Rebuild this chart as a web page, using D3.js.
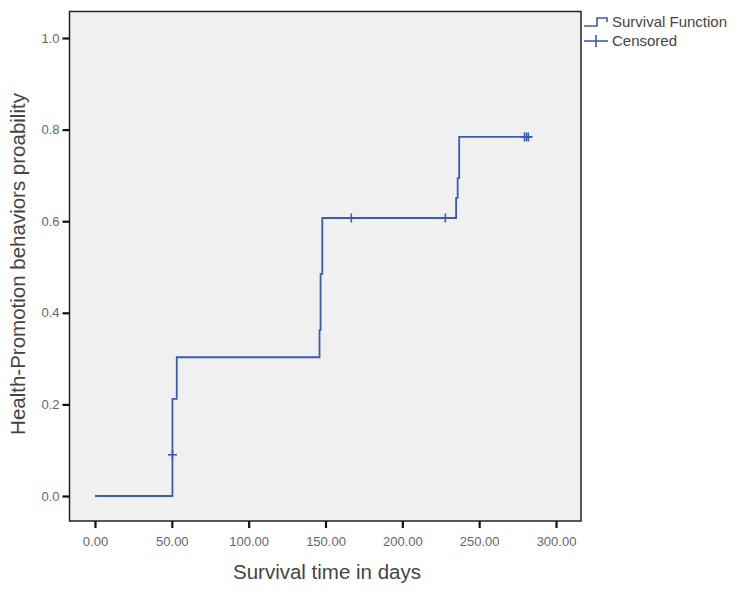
<!DOCTYPE html>
<html><head><meta charset="utf-8">
<script src="https://cdn.jsdelivr.net/npm/d3@7"></script>
<style>body{margin:0;background:#fff;font-family:"Liberation Sans",Arial,sans-serif}</style>
</head><body><svg id="c" width="734" height="591"></svg>
<script>
// Step points: [time (days), cumulative probability]
const stepTimes = [0, 50.4, 53.2, 146.1, 146.8, 147.9, 235, 236, 237, 284];
const stepValues = [0, 0.212, 0.303, 0.362, 0.485, 0.607, 0.651, 0.694, 0.784, 0.784];
const censorTimes = [50.4, 166.8, 228, 279.5, 280.8, 282];
const censorValues = [0.09, 0.607, 0.607, 0.784, 0.784, 0.784];
const xTicks = [0, 50, 100, 150, 200, 250, 300];
const yTicks = [0, 0.2, 0.4, 0.6, 0.8, 1.0];

const svg = d3.select("#c");
const frame = {l: 69.5, t: 11.5, r: 581, b: 521};
const x = d3.scaleLinear().domain([0, 300]).range([95, 556]);
const y = d3.scaleLinear().domain([0, 1]).range([496, 38]);
const blue = "#3a5db3";

svg.append("rect").attr("x", frame.l).attr("y", frame.t)
  .attr("width", frame.r - frame.l).attr("height", frame.b - frame.t)
  .attr("fill", "#f0f0f0").attr("stroke", "#222").attr("stroke-width", 1.5);

// Axes
const yAxis = svg.append("g").attr("transform", `translate(${frame.l},0)`)
  .call(d3.axisLeft(y).tickValues(yTicks).tickFormat(d3.format(".1f")).tickSize(7).tickPadding(3));
const xAxis = svg.append("g").attr("transform", `translate(0,${frame.b})`)
  .call(d3.axisBottom(x).tickValues(xTicks).tickFormat(d3.format(".2f")).tickSize(7).tickPadding(9));
[yAxis, xAxis].forEach(g => {
  g.select(".domain").remove();
  g.selectAll("line").attr("stroke", "#111").attr("stroke-width", 2.2);
  g.selectAll("text").attr("fill", "#666").attr("font-size", 13)
    .attr("font-family", "Liberation Sans, Arial, sans-serif");
});

// Step line
const pts = stepTimes.map((t, i) => [t, stepValues[i]]);
const line = d3.line().x(d => x(d[0])).y(d => y(d[1])).curve(d3.curveStepAfter);
svg.append("path").datum(pts).attr("d", line).attr("fill", "none")
  .attr("stroke", blue).attr("stroke-width", 1.8);

// Censored marks
const cens = censorTimes.map((t, i) => [t, censorValues[i]]);
const cg = svg.append("g").attr("stroke", blue).attr("stroke-width", 1.6);
cens.forEach(d => {
  cg.append("line").attr("x1", x(d[0])).attr("x2", x(d[0]))
    .attr("y1", y(d[1]) - 4.5).attr("y2", y(d[1]) + 4.5);
  cg.append("line").attr("x1", x(d[0]) - 4.5).attr("x2", x(d[0]) + 4.5)
    .attr("y1", y(d[1])).attr("y2", y(d[1]));
});

// Axis titles
svg.append("text").attr("x", 327).attr("y", 579).attr("text-anchor", "middle")
  .attr("font-size", 20.5).attr("fill", "#444").text("Survival time in days");
svg.append("text").attr("transform", "translate(25,264) rotate(-90)").attr("text-anchor", "middle")
  .attr("font-size", 20.5).attr("fill", "#444").text("Health-Promotion behaviors proability");

// Legend
const lg = svg.append("g").attr("stroke", blue).attr("stroke-width", 1.6).attr("fill", "none");
lg.append("path").attr("d", "M584,26 H597 V18 H607 V22");
lg.append("line").attr("x1", 584).attr("x2", 608).attr("y1", 41).attr("y2", 41);
lg.append("line").attr("x1", 596).attr("x2", 596).attr("y1", 35).attr("y2", 47);
svg.append("text").attr("x", 612).attr("y", 27).attr("font-size", 15).attr("fill", "#444").text("Survival Function");
svg.append("text").attr("x", 612).attr("y", 46).attr("font-size", 15).attr("fill", "#444").text("Censored");
</script></body></html>
